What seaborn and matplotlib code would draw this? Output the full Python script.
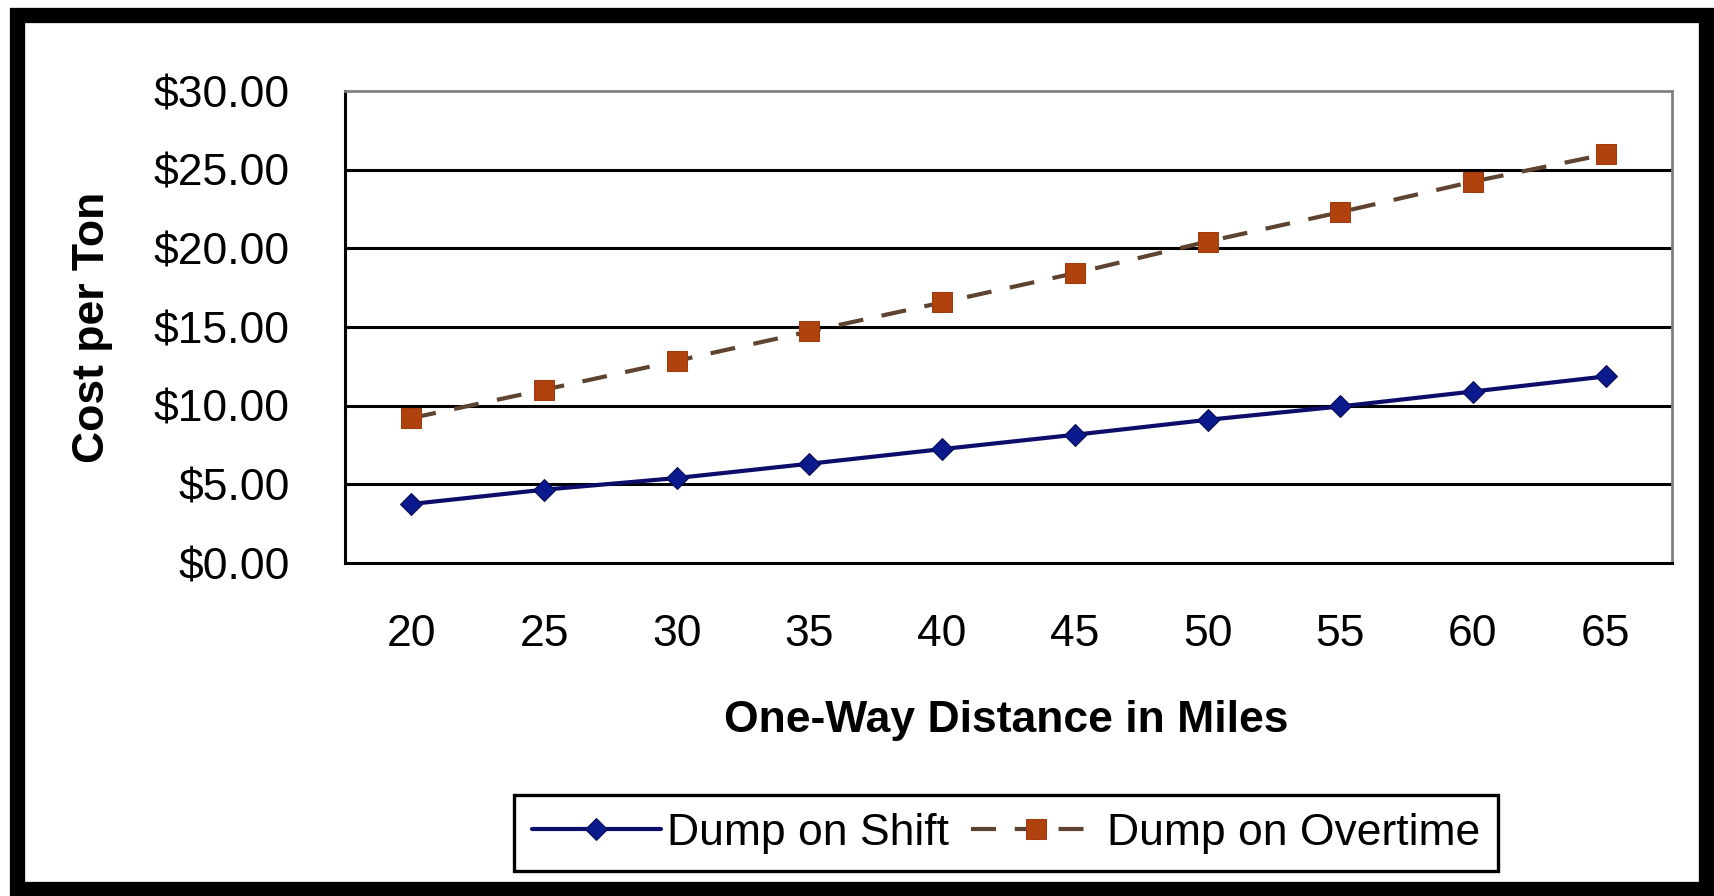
import matplotlib
matplotlib.use("Agg")
import matplotlib.pyplot as plt
import matplotlib.patches as mpatches
import matplotlib.font_manager as fm
import pandas as pd
import seaborn as sns

# --- chart data ---
distances = [20, 25, 30, 35, 40, 45, 50, 55, 60, 65]
cost_on_shift = [3.75, 4.66, 5.40, 6.31, 7.24, 8.15, 9.10, 9.95, 10.90, 11.86]
cost_on_overtime = [9.21, 11.01, 12.85, 14.72, 16.56, 18.42, 20.43, 22.30, 24.24, 25.98]
y_ticks = [0, 5, 10, 15, 20, 25, 30]
series_names = ["Dump on Shift", "Dump on Overtime"]

df = pd.DataFrame({
    "distance": distances * 2,
    "cost": cost_on_shift + cost_on_overtime,
    "series": [series_names[0]] * len(distances) + [series_names[1]] * len(distances),
})

sns.set_style("white")
plt.rcParams["font.family"] = ["Liberation Sans", "DejaVu Sans"]
plt.rcParams["text.color"] = "black"
plt.rcParams["axes.labelcolor"] = "black"
plt.rcParams["xtick.color"] = "black"
plt.rcParams["ytick.color"] = "black"

installed = {f.name for f in fm.fontManager.ttflist}
legend_family = "Liberation Sans Narrow" if "Liberation Sans Narrow" in installed else "Liberation Sans"

fig = plt.figure(figsize=(17.15, 8.96), dpi=100)
ax = fig.add_axes([345 / 1715, 1 - 563 / 896, 1327 / 1715, 472 / 896])

palette = {series_names[0]: "#0d0d6b", series_names[1]: "#5e4330"}
sns.lineplot(data=df, x="distance", y="cost", hue="series", style="series",
             palette=palette, dashes={series_names[0]: "", series_names[1]: (6, 4.5)},
             markers={series_names[0]: "D", series_names[1]: "s"},
             linewidth=3, markersize=13, ax=ax, legend=False)

# marker colours
line_shift, line_over = ax.lines[0], ax.lines[1]
line_shift.set_markerfacecolor("#0a1a8c")
line_shift.set_markeredgecolor("#0a0a50")
line_shift.set_markersize(11)
line_over.set_markerfacecolor("#b0420e")
line_over.set_markeredgecolor("#a03c10")
line_over.set_markersize(15)

ax.set_xlim(17.5, 67.5)
ax.set_ylim(0, 30)

# y axis
ax.set_yticks(y_ticks)
ax.set_yticklabels([f"${v:.2f}" for v in y_ticks])
ax.tick_params(axis="y", direction="inout", length=24, width=2, pad=28,
               labelsize=32, color="black", labelcolor="black")
for v in y_ticks[1:-1]:
    ax.axhline(v, color="black", linewidth=2.2, zorder=0.5)

# x axis: labels at centres, ticks at category boundaries
ax.set_xticks(distances)
ax.set_xticklabels([str(d) for d in distances])
ax.set_xticks([d - 2.5 for d in distances] + [67.5], minor=True)
ax.tick_params(axis="x", which="major", length=0, pad=37, labelsize=32, labelcolor="black")
ax.tick_params(axis="x", which="minor", direction="out", length=11, width=1.8, color="black")

for side in ["left", "bottom"]:
    ax.spines[side].set_color("black")
    ax.spines[side].set_linewidth(2.2)
for side in ["top", "right"]:
    ax.spines[side].set_color("#808080")
    ax.spines[side].set_linewidth(2)

ax.set_xlabel("One-Way Distance in Miles", fontsize=32, fontweight="bold", color="black")
ax.set_ylabel("Cost per Ton", fontsize=32, fontweight="bold", color="black")
ax.xaxis.set_label_coords(0.498, -0.29)
ax.yaxis.set_label_coords(-0.175, 0.5)

# legend
leg = fig.legend(handles=[line_shift, line_over], labels=series_names,
                 loc="center", bbox_to_anchor=(1006 / 1715, 1 - 833 / 896),
                 ncol=2, frameon=True, fancybox=False, framealpha=1, handlelength=2.9,
                 handletextpad=0.15, columnspacing=0.5, borderpad=0.4,
                 prop={"family": legend_family, "size": 32})
leg.get_frame().set_edgecolor("black")
leg.get_frame().set_linewidth(2.4)
for t in leg.get_texts():
    t.set_color("black")

# black frame round the whole picture
fig.patches.append(mpatches.Rectangle((17.5 / 1715, 1 - 889 / 896),
                                      (1706 - 17.5) / 1715, (889 - 15) / 896,
                                      transform=fig.transFigure, fill=False,
                                      edgecolor="black", linewidth=11))

fig.savefig("out.png", dpi=100)
